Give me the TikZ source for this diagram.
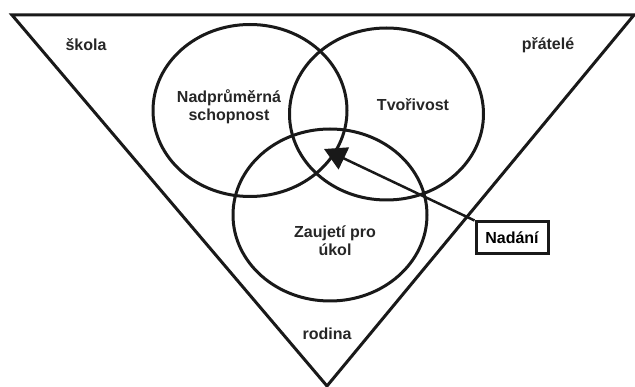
\documentclass[tikz,border=0pt]{standalone}
\usepackage{fontspec}
\setmainfont{Liberation Sans}
\usetikzlibrary{shapes.geometric,arrows.meta}
\tikzset{
  lbl/.style={font=\fontsize{16}{18}\selectfont\bfseries, text=black!85, align=center, inner sep=0pt},
  ring/.style={ellipse, draw=black!90, line width=3pt, minimum width=194pt, minimum height=172pt, inner sep=0pt},
  boxnode/.style={draw=black!90, line width=3pt, minimum width=72pt, minimum height=32pt, inner sep=0pt, font=\fontsize{16}{18}\selectfont\bfseries},
}
\begin{document}
\begin{tikzpicture}[x=1pt,y=-1pt]
\useasboundingbox (0,0) rectangle (635,387);
% triangle
\coordinate (tl) at (12,15);
\coordinate (tr) at (634,15);
\coordinate (ap) at (327,386);
\draw[line width=3pt, draw=black!90] (tl) -- (tr) -- (ap) -- cycle;
% circles
\node[ring] (c1) at (250,110.5) {};
\node[ring] (c2) at (386.5,114) {};
\node[ring] (c3) at (330,215) {};
% labels
\node[lbl] (skola) at (86,45) {škola};
\node[lbl] (pratele) at (548,45) {přátelé};
\node[lbl] (nad) at (229,107) {Nadprůměrná\\schopnost};
\node[lbl] (tvo) at (413,105) {Tvořivost};
\node[lbl] (zau) at (335,241) {Zaujetí pro\\úkol};
\node[lbl] (rod) at (327,334) {rodina};
% box and arrow
\node[boxnode] (box) at (512,238) {Nadání};
\coordinate (tip) at (324,149);
\draw[line width=2.5pt, draw=black!90, -{Triangle[length=22pt,width=24pt]}] (box.north west) -- (tip);
\end{tikzpicture}
\end{document}
